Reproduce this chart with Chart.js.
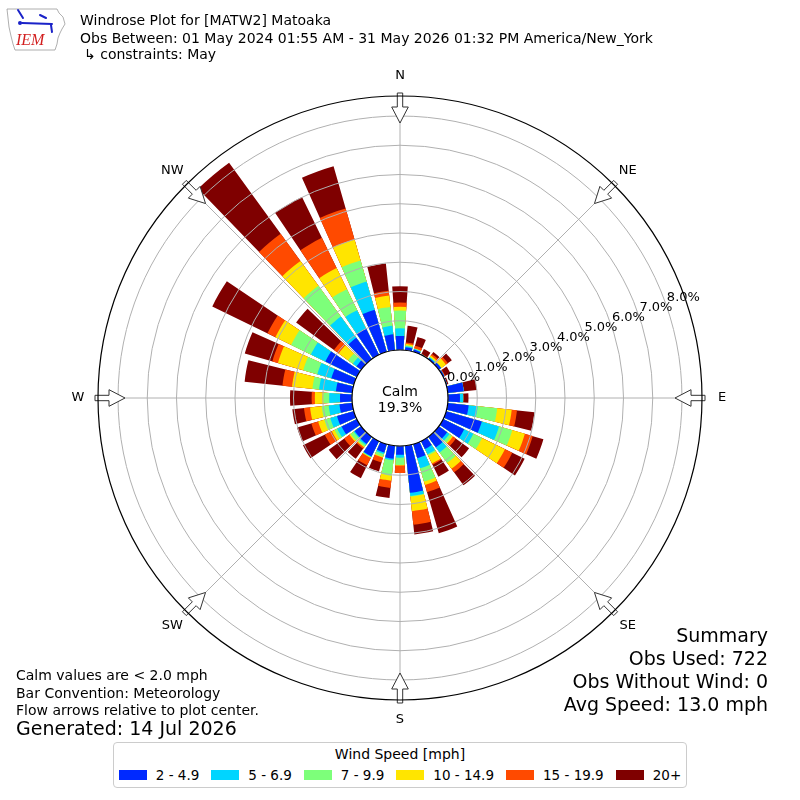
<!DOCTYPE html>
<html>
<head>
<meta charset="utf-8">
<title>Windrose Plot for [MATW2] Matoaka</title>
<script src="https://cdn.jsdelivr.net/npm/chart.js@4.4.1/dist/chart.umd.min.js"></script>
<style>
  html, body { margin: 0; padding: 0; background: #fff; }
  #page { position: relative; width: 800px; height: 800px; overflow: hidden;
          font-family: "DejaVu Sans", sans-serif; color: #000; }
  #rose { position: absolute; left: 0; top: 0; }
  .txt { position: absolute; white-space: pre; z-index: 2; }
  .t14 { font-size: 14px; line-height: 14px; }
  .t19 { font-size: 19px; line-height: 19px; }
  .right { text-align: right; }
  .mid { left: 350px; width: 100px; text-align: center; }
  .logo { position: absolute; left: 0; top: 0; z-index: 2; }
  #legend { position: absolute; left: 113px; top: 742px; width: 574px; height: 46px;
            box-sizing: border-box; border: 1px solid #cccccc; border-radius: 4px;
            background: #fff; z-index: 2; }
  #legend .title { position: absolute; left: 0; right: 0; top: 4px; text-align: center;
                   font-size: 14px; line-height: 14px; }
  #legend .row { position: absolute; left: 0; right: 0; top: 25px; height: 14px;
                 display: flex; justify-content: center; align-items: center; gap: 12px; }
  #legend .item { display: flex; align-items: center; font-size: 13.5px; line-height: 14px; }
  #legend .sw { width: 28px; height: 10px; margin-right: 9px; }
</style>
</head>
<body>
<div id="page">
  <canvas id="rose" width="800" height="800"></canvas>

  <svg class="logo" width="70" height="56" viewBox="0 0 70 56">
    <path d="M7 9 L57 9 L59 13 L63 17 L65 24 L62 29 L60 33 L58 38 L57 44 L55 50 L15 50 L13 44 L11 36 L9 27 L8 18 Z"
          fill="none" stroke="#9a9a9a" stroke-width="0.8"/>
    <g stroke="#1a22c8" stroke-width="2" fill="none" stroke-linecap="round">
      <line x1="22" y1="23" x2="52" y2="24"/>
      <line x1="18" y1="10" x2="23" y2="18"/>
      <line x1="40" y1="15" x2="46" y2="18"/>
      <line x1="51" y1="25" x2="52" y2="32"/>
    </g>
    <circle cx="20" cy="23" r="2" fill="#1a22c8"/>
    <text x="16" y="45" font-family="Liberation Serif" font-style="italic" font-size="16" fill="#d21f1f">IEM</text>
  </svg>

  <div class="txt t14" style="left:80px; top:13px;">Windrose Plot for [MATW2] Matoaka</div>
  <div class="txt t14" style="left:80px; top:31px;">Obs Between: 01 May 2024 01:55 AM - 31 May 2026 01:32 PM America/New_York</div>
  <div class="txt t14" style="left:84px; top:47px;">↳ constraints: May</div>

  <div class="txt t14 mid" style="top:384px;">Calm</div>
  <div class="txt t14 mid" style="top:400px;">19.3%</div>

  <div class="txt t19 right" style="right:32px; top:626px;">Summary</div>
  <div class="txt t19 right" style="right:32px; top:649px;">Obs Used: 722</div>
  <div class="txt t19 right" style="right:32px; top:672px;">Obs Without Wind: 0</div>
  <div class="txt t19 right" style="right:32px; top:695px;">Avg Speed: 13.0 mph</div>

  <div class="txt t14" style="left:16px; top:668px;">Calm values are &lt; 2.0 mph</div>
  <div class="txt t14" style="left:16px; top:686px;">Bar Convention: Meteorology</div>
  <div class="txt t14" style="left:16px; top:703px;">Flow arrows relative to plot center.</div>
  <div class="txt t19" style="left:16px; top:719px;">Generated: 14 Jul 2026</div>

  <div id="legend">
    <div class="title">Wind Speed [mph]</div>
    <div class="row" id="legendRow"></div>
  </div>
</div>

<script>
// wind directions (degrees, meteorological: where the wind comes from)
const directions = [0, 10, 20, 30, 40, 50, 60, 70, 80, 90, 100, 110, 120, 130, 140, 150, 160, 170,
                    180, 190, 200, 210, 220, 230, 240, 250, 260, 270, 280, 290, 300, 310, 320, 330, 340, 350];

const speedBins = ['2 - 4.9', '5 - 6.9', '7 - 9.9', '10 - 14.9', '15 - 19.9', '20+'];

// frequency (%) of each speed bin per direction
const freq2to5 = [0.48, 0.10, 0.08, 0.02, 0.05, 0.10, 0.05, 0.03, 0.55, 0.41, 0.72, 1.27, 0.80, 0.35, 0.45, 0.30, 0.50, 1.62,
                  0.30, 0.45, 0.30, 0.58, 0.30, 0.28, 0.58, 0.60, 0.44, 0.41, 0.56, 0.80, 1.20, 0.20, 0.90, 1.00, 1.50, 0.55];
const freq5to7 = [0.26, 0.04, 0.02, 0.00, 0.03, 0.00, 0.00, 0.00, 0.00, 0.11, 0.31, 0.61, 0.35, 0.10, 0.21, 0.20, 0.36, 0.11,
                  0.10, 0.05, 0.05, 0.02, 0.05, 0.04, 0.17, 0.24, 0.37, 0.37, 0.58, 0.50, 0.55, 0.15, 0.90, 0.70, 1.00, 0.29];
const freq7to10 = [0.61, 0.03, 0.02, 0.00, 0.02, 0.00, 0.00, 0.00, 0.00, 0.00, 0.67, 0.47, 0.33, 0.10, 0.44, 0.05, 0.47, 0.02,
                   0.25, 0.53, 0.10, 0.02, 0.07, 0.13, 0.10, 0.21, 0.24, 0.20, 0.23, 0.50, 0.75, 0.20, 1.30, 0.80, 0.75, 0.65];
const freq10to15 = [0.13, 0.05, 0.00, 0.00, 0.05, 0.20, 0.00, 0.00, 0.00, 0.00, 0.50, 0.45, 0.87, 0.05, 0.25, 0.30, 0.12, 0.50,
                    0.02, 0.17, 0.03, 0.02, 0.03, 0.05, 0.10, 0.22, 0.40, 0.29, 0.70, 0.90, 0.60, 0.40, 1.05, 0.80, 0.75, 0.39];
const freq15to20 = [0.14, 0.05, 0.10, 0.02, 0.07, 0.08, 0.03, 0.00, 0.00, 0.00, 0.18, 0.28, 0.28, 0.12, 0.15, 0.05, 0.26, 0.47,
                    0.25, 0.25, 0.17, 0.28, 0.05, 0.22, 0.27, 0.24, 0.21, 0.11, 0.33, 0.20, 0.30, 0.20, 1.15, 1.15, 1.10, 0.17];
const freq20up = [0.56, 0.57, 0.31, 0.18, 0.08, 0.17, 0.20, 0.05, 0.45, 0.18, 0.60, 0.38, 0.47, 0.56, 0.55, 0.45, 1.46, 0.33,
                  0.00, 0.35, 0.32, 0.49, 0.43, 0.65, 0.83, 0.51, 0.40, 0.74, 1.30, 0.98, 2.10, 1.60, 3.00, 1.55, 1.50, 0.93];

const tickValues = [0, 1, 2, 3, 4, 5, 6, 7, 8];
const tickLabels = ['0.0%', '1.0%', '2.0%', '3.0%', '4.0%', '5.0%', '6.0%', '7.0%', '8.0%'];

const compassLabels = ['N', 'NE', 'E', 'SE', 'S', 'SW', 'W', 'NW'];
const compassAngles = [0, 45, 90, 135, 180, 225, 270, 315];

// styling
const binColors = ['#0029ff', '#00d5ff', '#7dff7a', '#ffe500', '#ff4a00', '#7f0000'];
const gridColor = '#b0b0b0';
const barWidthDeg = 8;      // each bar covers 8 of its 10 degree sector
const rMin = -1.641;        // puts 0% on the edge of the calm circle
const rMax = 8.684;
const tickLabelAngle = 70;  // compass angle of the % labels

const seriesValues = [freq2to5, freq5to7, freq7to10, freq10to15, freq15to20, freq20up];

// legend (html)
const row = document.getElementById('legendRow');
speedBins.forEach((lab, i) => {
    const item = document.createElement('div');
    item.className = 'item';
    item.innerHTML = '<span class="sw" style="background:' + binColors[i] + '"></span><span>' + lab + '</span>';
    row.appendChild(item);
});

// stacked bars: each dataset is the running total, smaller totals drawn on top
let running = directions.map(() => 0);
const datasets = seriesValues.map((vals, i) => {
    running = running.map((sum, k) => sum + vals[k]);
    return {
        label: speedBins[i],
        data: running.map(v => +v.toFixed(2)),
        backgroundColor: binColors[i],
        borderWidth: 0
    };
});

const rad = d => d * Math.PI / 180;
const canvasAngle = deg => rad(deg) - Math.PI / 2;

// point at compass angle deg, distance dist (px) from the scale centre
function polarPoint(s, deg, dist) {
    const a = canvasAngle(deg);
    return { x: s.xCenter + Math.cos(a) * dist, y: s.yCenter + Math.sin(a) * dist };
}

const roseDecor = {
    id: 'roseDecor',
    beforeDatasetsDraw(chart) {
        const s = chart.scales.r;
        const half = rad(barWidthDeg) / 2;
        chart.getSortedVisibleDatasetMetas().forEach(meta => {
            meta.data.forEach(arc => {
                const mid = (arc.startAngle + arc.endAngle) / 2;
                arc.startAngle = mid - half;
                arc.endAngle = mid + half;
                arc.circumference = 2 * half;
            });
        });

        // spokes sit under the bars
        const ctx = chart.ctx;
        ctx.save();
        ctx.strokeStyle = gridColor;
        ctx.lineWidth = 1;
        compassAngles.forEach(deg => {
            const p0 = polarPoint(s, deg, s.getDistanceFromCenterForValue(0));
            const p1 = polarPoint(s, deg, s.drawingArea);
            ctx.beginPath();
            ctx.moveTo(p0.x, p0.y);
            ctx.lineTo(p1.x, p1.y);
            ctx.stroke();
        });
        ctx.restore();
    },
    afterDraw(chart) {
        const s = chart.scales.r;
        const ctx = chart.ctx;
        const cx = s.xCenter, cy = s.yCenter;
        ctx.save();

        // flow arrows
        ctx.lineWidth = 1;
        ctx.strokeStyle = '#333';
        ctx.fillStyle = '#fff';
        compassAngles.forEach(deg => {
            const px = Math.cos(rad(deg)), py = Math.sin(rad(deg));
            const pt = (r, w) => {
                const p = polarPoint(s, deg, r);
                return [p.x + w * px, p.y + w * py];
            };
            const pts = [pt(305, -2.7), pt(291, -2.7), pt(291, -8.3), pt(275, 0),
                         pt(291, 8.3), pt(291, 2.7), pt(305, 2.7)];
            ctx.beginPath();
            pts.forEach(([x, y], i) => (i ? ctx.lineTo(x, y) : ctx.moveTo(x, y)));
            ctx.closePath();
            ctx.fill();
            ctx.stroke();
        });

        // outer frame
        ctx.strokeStyle = '#000';
        ctx.lineWidth = 1.2;
        ctx.beginPath();
        ctx.arc(cx, cy, s.drawingArea, 0, Math.PI * 2);
        ctx.stroke();

        // calm circle
        ctx.fillStyle = '#fff';
        ctx.beginPath();
        ctx.arc(cx, cy, s.getDistanceFromCenterForValue(0), 0, Math.PI * 2);
        ctx.fill();
        ctx.stroke();

        // compass labels
        ctx.fillStyle = '#000';
        ctx.font = '13px "DejaVu Sans"';
        ctx.textAlign = 'center';
        ctx.textBaseline = 'middle';
        compassLabels.forEach((lab, i) => {
            const p = polarPoint(s, compassAngles[i], 322);
            ctx.fillText(lab, p.x, p.y);
        });

        // radial % labels
        ctx.textAlign = 'left';
        ctx.textBaseline = 'alphabetic';
        tickValues.forEach((v, i) => {
            const p = polarPoint(s, tickLabelAngle, s.getDistanceFromCenterForValue(v) + 2);
            ctx.fillText(tickLabels[i], p.x, p.y);
        });
        ctx.restore();
    }
};

new Chart(document.getElementById('rose'), {
    type: 'polarArea',
    data: { labels: directions.map(String), datasets },
    options: {
        responsive: false,
        animation: false,
        devicePixelRatio: 1,
        layout: { padding: { left: 98, right: 98, top: 96, bottom: 100 } },
        plugins: { legend: { display: false }, tooltip: { enabled: false } },
        scales: {
            r: {
                min: rMin,
                max: rMax,
                startAngle: -5,
                ticks: { display: false },
                afterBuildTicks: scale => { scale.ticks = tickValues.map(v => ({ value: v })); },
                grid: { color: gridColor, lineWidth: 1, circular: true, z: 1 },
                angleLines: { display: false },
                pointLabels: { display: false }
            }
        }
    },
    plugins: [roseDecor]
});
</script>
</body>
</html>
